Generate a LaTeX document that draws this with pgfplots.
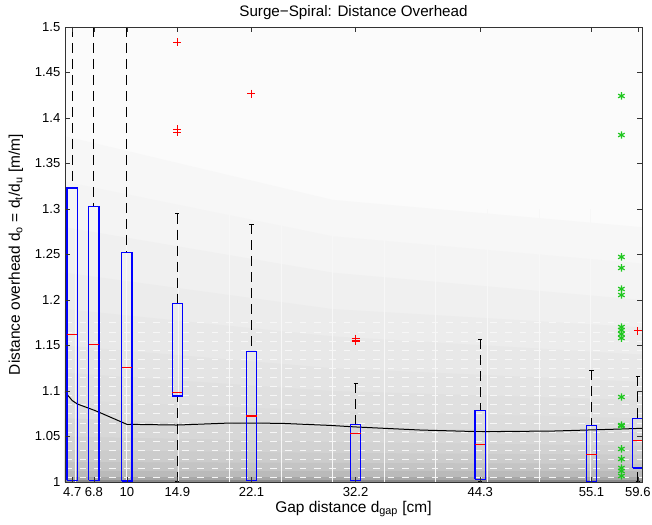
\documentclass[border=0pt]{standalone}
\usepackage{fontspec}
\setmainfont{Liberation Sans}
\usepackage{pgfplots}
\pgfplotsset{compat=1.18}

\definecolor{mblue}{rgb}{0,0,1}
\definecolor{mred}{rgb}{1,0,0}
\definecolor{mgreen}{rgb}{0.12,0.78,0.12}
\definecolor{streak}{gray}{0.97}

\pgfplotsset{
  bg/.style={draw=none, forget plot},
  seg/.style={forget plot, unbounded coords=jump},
}

\begin{document}
\begin{tikzpicture}
\begin{axis}[
    scale only axis,
    width=432.75pt, height=341.25pt,
    xmin=4, xmax=60, ymin=1, ymax=1.5,
    axis on top,
    axis line style={black!80},
    tick style={black!80},
    tick align=inside,
    major tick length=3.5pt,
    xtick={4.7,6.8,10,14.9,22.1,32.2,44.3,55.1,59.6},
    xticklabels={4.7,6.8,10,14.9,22.1,32.2,44.3,55.1,59.6},
    ytick={1,1.05,1.1,1.15,1.2,1.25,1.3,1.35,1.4,1.45,1.5},
    /pgf/number format/assume math mode=true,
    yticklabel style={/pgf/number format/fixed, /pgf/number format/precision=2},
    tick label style={font=\fontsize{9.8}{11}\selectfont},
    xticklabel style={anchor=base, yshift=-11.2pt},
    title={Surge−Spiral: Distance Overhead},
    every axis title shift=0pt,
    title style={at={(axis description cs:0.5,1)}, anchor=base, yshift=7.5pt,
                 font=\fontsize{11.4}{13}\selectfont},
    xlabel={Gap distance d\textsubscript{gap} [cm]},
    xlabel style={at={(axis description cs:0.5,0)}, anchor=base, yshift=-22.5pt,
                  font=\fontsize{11.6}{13}\selectfont},
    ylabel={Distance overhead d\textsubscript{o} = d\textsubscript{t}/d\textsubscript{u} [m/m]},
    ylabel style={at={(axis description cs:-0.078,0.5)}, anchor=base,
                  font=\fontsize{11.6}{13}\selectfont},
]

% shaded background, darker towards d_o = 1
\addplot[bg, fill=black!1.5]  coordinates {(4,1)(4,1.5)(60,1.5)(60,1)};
\addplot[bg, fill=black!3]  coordinates {(4,1)(4,1.38)(30,1.31)(60,1.28)(60,1)};
\addplot[bg, fill=black!4.5]  coordinates {(4,1)(4,1.33)(30,1.27)(60,1.24)(60,1)};
\addplot[bg, fill=black!6] coordinates {(4,1)(4,1.28)(30,1.23)(60,1.20)(60,1)};
\addplot[bg, fill=black!7.5]  coordinates {(4,1)(4,1.23)(30,1.19)(60,1.17)(60,1)};
\addplot[bg, fill=black!9] coordinates {(4,1)(4,1.19)(30,1.16)(60,1.14)(60,1)};
\addplot[bg, fill=black!10.5] coordinates {(4,1)(4,1.15)(30,1.125)(60,1.11)(60,1)};
\addplot[bg, fill=black!12] coordinates {(4,1)(4,1.12)(30,1.10)(60,1.09)(60,1)};
\addplot[bg, fill=black!13.5] coordinates {(4,1)(4,1.09)(30,1.078)(60,1.07)(60,1)};
\addplot[bg, fill=black!15.5] coordinates {(4,1)(4,1.07)(30,1.06)(60,1.055)(60,1)};
\addplot[bg, fill=black!17.5] coordinates {(4,1)(4,1.05)(30,1.044)(60,1.04)(60,1)};
\addplot[bg, fill=black!20] coordinates {(4,1)(4,1.035)(30,1.032)(60,1.03)(60,1)};
\addplot[bg, fill=black!23] coordinates {(4,1)(4,1.022)(30,1.021)(60,1.02)(60,1)};
\addplot[bg, fill=black!27] coordinates {(4,1)(4,1.012)(60,1.012)(60,1)};
\addplot[bg, fill=black!34] coordinates {(4,1)(4,1.006)(60,1.006)(60,1)};
\addplot[bg, fill=black!46] coordinates {(4,1)(4,1.002)(60,1.002)(60,1)};

% light streaks of the background
\addplot[seg, streak, line width=0.7pt]
  coordinates {(5,1)(5,1.3)(5,nan)(10,1)(10,1.3)(10,nan)(15,1)(15,1.3)(15,nan)
               (20,1)(20,1.3)(20,nan)(25,1)(25,1.3)(25,nan)(30,1)(30,1.3)(30,nan)
               (35,1)(35,1.3)(35,nan)(40,1)(40,1.3)(40,nan)(45,1)(45,1.3)(45,nan)
               (50,1)(50,1.3)(50,nan)(55,1)(55,1.3)};
\addplot[seg, streak, line width=0.5pt, dash pattern=on 5pt off 6pt]
  coordinates {(4,1.005)(60,1.005)(60,nan)(4,1.015)(60,1.015)(60,nan)(4,1.025)(60,1.025)(60,nan)
               (4,1.035)(60,1.035)(60,nan)(4,1.045)(60,1.045)(60,nan)(4,1.055)(60,1.055)(60,nan)
               (4,1.065)(60,1.065)(60,nan)(4,1.075)(60,1.075)(60,nan)(4,1.085)(60,1.085)(60,nan)
               (4,1.095)(60,1.095)(60,nan)(4,1.105)(60,1.105)(60,nan)(4,1.115)(60,1.115)(60,nan)
               (4,1.125)(60,1.125)(60,nan)(4,1.135)(60,1.135)(60,nan)(4,1.145)(60,1.145)(60,nan)
               (4,1.155)(60,1.155)(60,nan)(4,1.165)(60,1.165)(60,nan)(4,1.175)(60,1.175)};

% mean overhead curve
\addplot[black, line width=0.75pt] coordinates {
  (4,1.099)(4.7,1.0895)(5.2,1.0857)(6.8,1.079)(7.4,1.0762)(10,1.0634)
  (14.9,1.0626)(20,1.0648)(24.9,1.0645)(29.7,1.0622)(32.2,1.0605)
  (38.5,1.0571)(44.3,1.0553)(51.4,1.056)(57.9,1.0582)(60,1.059)};

% whiskers (dashed) from quartile to whisker end
\addplot[seg, black, line width=0.75pt, dash pattern=on 7.5pt off 4.5pt] coordinates {
  (4.7,1.5)(4.7,1.323)(4.7,nan)
  (6.8,1.5)(6.8,1.303)(6.8,nan)
  (10,1.5)(10,1.252)(10,nan)
  (14.9,1.295)(14.9,1.196)(14.9,nan)(14.9,1.0)(14.9,1.0945)(14.9,nan)
  (22.1,1.283)(22.1,1.1436)(22.1,nan)
  (32.2,1.1085)(32.2,1.063)(32.2,nan)
  (44.3,1.157)(44.3,1.079)(44.3,nan)
  (55.1,1.1228)(55.1,1.0623)(55.1,nan)
  (59.6,1.1162)(59.6,1.0696)(59.6,nan)(59.6,1.0)(59.6,1.0154)};
% whisker caps
\addplot[seg, black, line width=0.75pt] coordinates {
  (14.7,1.295)(15.1,1.295)(15.1,nan)(14.7,1.001)(15.1,1.001)(15.1,nan)
  (21.9,1.283)(22.3,1.283)(22.3,nan)
  (32.0,1.1085)(32.4,1.1085)(32.4,nan)
  (44.1,1.157)(44.5,1.157)(44.5,nan)(44.1,1.001)(44.5,1.001)(44.5,nan)
  (54.9,1.1228)(55.3,1.1228)(55.3,nan)
  (59.4,1.1162)(59.8,1.1162)(59.8,nan)(59.4,1.001)(59.8,1.001)};

% boxes (lower to upper quartile)
\addplot[seg, mblue, line width=0.9pt] coordinates {
  (4.2,1.002)(5.2,1.002)(5.2,1.323)(4.2,1.323)(4.2,1.002)(4.2,nan)
  (6.3,1.002)(7.3,1.002)(7.3,1.303)(6.3,1.303)(6.3,1.002)(6.3,nan)
  (9.5,1.001)(10.5,1.001)(10.5,1.252)(9.5,1.252)(9.5,1.001)(9.5,nan)
  (14.4,1.0945)(15.4,1.0945)(15.4,1.196)(14.4,1.196)(14.4,1.0945)(14.4,nan)
  (21.6,1.002)(22.6,1.002)(22.6,1.1436)(21.6,1.1436)(21.6,1.002)(21.6,nan)
  (31.7,1.002)(32.7,1.002)(32.7,1.063)(31.7,1.063)(31.7,1.002)(31.7,nan)
  (43.8,1.003)(44.8,1.003)(44.8,1.079)(43.8,1.079)(43.8,1.003)(43.8,nan)
  (54.6,1.0005)(55.6,1.0005)(55.6,1.0623)(54.6,1.0623)(54.6,1.0005)(54.6,nan)
  (59.1,1.0154)(60.1,1.0154)(60.1,1.0696)(59.1,1.0696)(59.1,1.0154)};
% medians
\addplot[seg, mred, line width=0.9pt] coordinates {
  (4.2,1.162)(5.2,1.162)(5.2,nan)
  (6.3,1.151)(7.3,1.151)(7.3,nan)
  (9.5,1.126)(10.5,1.126)(10.5,nan)
  (14.4,1.098)(15.4,1.098)(15.4,nan)
  (21.6,1.0725)(22.6,1.0725)(22.6,nan)
  (31.7,1.053)(32.7,1.053)(32.7,nan)
  (43.8,1.041)(44.8,1.041)(44.8,nan)
  (54.6,1.0304)(55.6,1.0304)(55.6,nan)
  (59.1,1.046)(60.1,1.046)};

% outliers
\addplot[only marks, mark=+, mark size=3pt, draw=mred, line width=0.8pt] coordinates {
  (14.9,1.4832)(14.9,1.3876)(14.9,1.3843)(22.1,1.4267)
  (32.2,1.1575)(32.2,1.1558)(32.2,1.1545)(59.6,1.166)};

% extra samples near 58 cm
\addplot[only marks, mark=asterisk, mark size=2.8pt, draw=mgreen, line width=0.9pt] coordinates {
  (58,1.4242)(58,1.3813)(58,1.2473)(58,1.2352)(58,1.2121)(58,1.2055)
  (58,1.1703)(58,1.167)(58,1.1626)(58,1.1582)(58,1.0934)(58,1.0626)
  (58,1.0615)(58,1.0363)(58,1.0253)(58,1.0154)(58,1.0121)(58,1.0066)};

\end{axis}
\pgfresetboundingbox
\path[use as bounding box] (current axis.south west) ++(-48.75pt,-31.5pt) rectangle ++(489pt,393pt);
\end{tikzpicture}
\end{document}
